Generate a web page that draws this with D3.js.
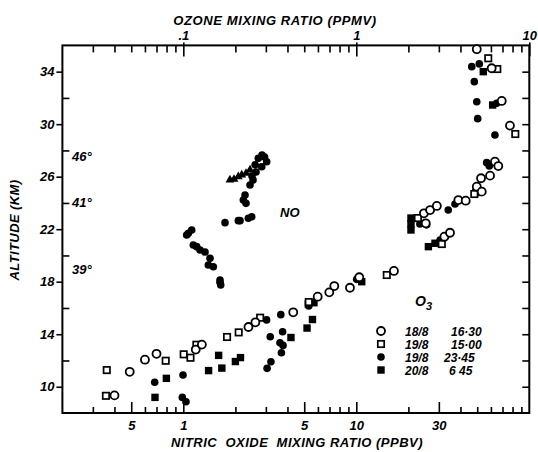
<!DOCTYPE html>
<html><head><meta charset="utf-8">
<script src="https://cdn.jsdelivr.net/npm/d3@7/dist/d3.min.js"></script>
<style>
body{margin:0;background:#fff;}
text{font-family:"Liberation Sans",Arial,sans-serif;font-style:italic;font-weight:bold;fill:#000;}
</style></head><body>
<svg id="c" width="538" height="452"></svg>
<script>
// ---- data (ozone in ppmv, altitude in km) ----
const o3_18_8_1630 = [[0.040,9.34],[0.049,11.14],[0.060,12.06],[0.070,12.51],[0.118,12.83],[0.128,13.21],[0.238,14.55],[0.261,14.91],[0.432,15.67],[0.598,16.86],[0.698,17.19],[0.746,17.67],[0.919,17.54],[1.04,18.34],[1.65,18.82],[2.46,23.21],[2.52,22.45],[2.67,23.46],[2.92,23.77],[3.23,21.43],[3.48,21.73],[3.89,24.22],[4.29,24.17],[4.97,25.24],[5.31,24.86],[5.26,25.88],[5.93,26.08],[6.33,27.14],[6.62,26.81],[4.97,35.71],[6.06,34.26],[6.93,31.77],[7.73,29.89]];
const o3_19_8_1500 = [[0.0361,11.27],[0.0357,9.31],[0.0791,11.98],[0.1005,12.47],[0.110,12.21],[0.119,13.2],[0.179,13.79],[0.209,14.14],[0.278,15.26],[0.531,16.45],[1.50,18.51],[2.27,22.85],[3.12,20.87],[4.81,24.68],[5.79,35.02],[6.53,34.2],[8.30,29.25]];
const o3_19_8_2345 = [[0.0683,10.34],[0.0987,9.19],[0.1036,8.86],[0.0996,10.89],[0.303,15.09],[0.366,15.49],[0.318,13.81],[0.375,14.19],[0.362,13.35],[0.377,13.15],[0.369,12.59],[0.321,11.9],[0.305,11.4],[0.531,16.15],[1.005,18.18],[2.33,22.4],[2.55,22.33],[3.05,21.18],[3.40,23.46],[3.72,23.92],[4.65,34.38],[5.14,34.59],[4.81,33.24],[4.97,31.71],[6.48,31.59],[5.03,30.42],[6.33,29.18],[5.67,27.07],[5.87,26.81]];
const o3_20_8_0645 = [[0.0686,9.19],[0.0798,10.64],[0.140,11.23],[0.160,12.39],[0.167,11.42],[0.200,11.92],[0.214,12.22],[0.419,13.75],[0.519,14.47],[0.558,15.12],[0.528,16.30],[0.569,16.4],[1.075,18.0],[2.07,22.85],[2.07,22.4],[2.07,21.94],[2.61,20.67],[2.85,20.93],[4.90,24.78],[5.42,34.0],[6.14,31.46]];
// nitric oxide in ppbv, altitude in km
const noDots = [[1.046,21.56],[1.069,21.69],[1.118,21.94],[1.142,20.8],[1.195,20.67],[1.249,20.42],[1.335,20.26],[1.427,19.78],[1.395,19.27],[1.491,19.14],[1.63,18.13],[1.645,17.75],[1.63,17.95],[1.742,22.5],[2.079,22.65],[2.127,22.65],[2.376,22.83],[2.486,22.95],[2.274,24.6],[2.223,24.22],[2.304,23.97],[2.43,25.37],[2.529,25.75],[2.714,27.4],[3.034,27.14],[2.84,26.76],[2.851,27.65],[2.632,26.36],[2.495,26.05],[2.95,27.5],[2.6,26.9]];
const noTriangles = [[1.86,25.75],[1.964,25.8],[2.079,26.0],[2.176,26.13],[2.304,26.26],[2.43,26.51]];
// axes
const noDomain = [0.2, 100];
const o3Domain = [0.02, 10];
const altDomain = [8, 36];
const bottomMajor = [0.5, 1, 5, 10, 30];
const bottomMajorLabels = ["5", "1", "5", "10", "30"];
const bottomMinor = [0.3,0.4,0.6,0.7,0.8,0.9,2,3,4,6,7,8,9,20,40,50,60,70,80,90];
const topMajor = [0.1, 1, 10];
const topMajorLabels = [".1", "1", "10"];
const topMinor = [0.03,0.04,0.05,0.06,0.07,0.08,0.09,0.2,0.3,0.4,0.5,0.6,0.7,0.8,0.9,2,3,4,5,6,7,8,9];
const altMajor = [10,14,18,22,26,30,34];
const altMinor = [12,16,20,24,28,32];
const altAll = [10,12,14,16,18,20,22,24,26,28,30,32,34];
const legendLabels = [["18/8","16·30"],["19/8","15·00"],["19/8","23·45"],["20/8","6 45"]];
const angleLabels = [["46°",27.6],["41°",24.1],["39°",19.0]];

const svg = d3.select("#c");
const L = 62.4, R = 529.3, T = 45.4, B = 413;
const xNO = d3.scaleLog().domain(noDomain).range([L, R]);
const xO3 = d3.scaleLog().domain(o3Domain).range([L, R]);
const y = d3.scaleLinear().domain(altDomain).range([B, T]);

function styleAxis(g){
  g.select(".domain").remove();
  g.selectAll(".tick line").attr("stroke","#000").attr("stroke-width",1.6);
  g.selectAll(".tick text").style("font-size","13px");
}
// bottom
svg.append("g").attr("transform",`translate(0,${B})`)
  .call(d3.axisBottom(xNO).tickValues(bottomMinor).tickSize(-6).tickFormat(""))
  .call(styleAxis);
svg.append("g").attr("transform",`translate(0,${B})`)
  .call(d3.axisBottom(xNO).tickValues(bottomMajor).tickSize(-11).tickPadding(8)
    .tickFormat((d,i)=>bottomMajorLabels[i]))
  .call(styleAxis);
// top
svg.append("g").attr("transform",`translate(0,${T})`)
  .call(d3.axisTop(xO3).tickValues(topMinor).tickSize(-7).tickFormat(""))
  .call(styleAxis);
svg.append("g").attr("transform",`translate(0,${T+11})`)
  .call(d3.axisTop(xO3).tickValues(topMajor).tickSize(14).tickPadding(2)
    .tickFormat((d,i)=>topMajorLabels[i]))
  .call(styleAxis);
// left
svg.append("g").attr("transform",`translate(${L},0)`)
  .call(d3.axisLeft(y).tickValues(altMajor).tickSize(6).tickPadding(2))
  .call(styleAxis);
svg.append("g").attr("transform",`translate(${L},0)`)
  .call(d3.axisLeft(y).tickValues(altMinor).tickSize(-7).tickFormat(""))
  .call(styleAxis);
// right
svg.append("g").attr("transform",`translate(${R},0)`)
  .call(d3.axisRight(y).tickValues(altAll).tickSize(-7).tickFormat(""))
  .call(styleAxis);

// frame
svg.append("rect").attr("x",L).attr("y",T).attr("width",R-L).attr("height",B-T)
  .attr("fill","none").attr("stroke","#000").attr("stroke-width",2);

// titles
svg.append("text").attr("x",275).attr("y",25).attr("text-anchor","middle")
  .style("font-size","13px").style("letter-spacing","0.6px").text("OZONE MIXING RATIO (PPMV)");
svg.append("text").attr("x",297).attr("y",447).attr("text-anchor","middle")
  .style("font-size","13px").style("letter-spacing","0.5px").style("white-space","pre")
  .text("NITRIC  OXIDE  MIXING RATIO (PPBV)");
svg.append("text").attr("transform","translate(19,230) rotate(-90)").attr("text-anchor","middle")
  .style("font-size","13px").style("letter-spacing","0.4px").text("ALTITUDE (KM)");

// angle annotations
svg.selectAll("text.ang").data(angleLabels).enter().append("text").attr("class","ang")
  .attr("x",72).attr("y",d=>y(d[1])+5).style("font-size","13px").text(d=>d[0]);
svg.append("text").attr("x",280).attr("y",217).style("font-size","13px").text("NO");

// NO series
const gNO = svg.append("g");
gNO.selectAll("circle").data(noDots).enter().append("circle")
  .attr("cx",d=>xNO(d[0])).attr("cy",d=>y(d[1])).attr("r",3.8).attr("fill","#000");
gNO.selectAll("path").data(noTriangles).enter().append("path")
  .attr("d",d3.symbol(d3.symbolTriangle,34))
  .attr("transform",d=>`translate(${xNO(d[0])},${y(d[1])})`).attr("fill","#000");

// ozone series
function openCircle(g,data){ g.selectAll("circle.oc").data(data).enter().append("circle").attr("class","oc")
  .attr("cx",d=>xO3(d[0])).attr("cy",d=>y(d[1])).attr("r",4).attr("fill","#fff").attr("stroke","#000").attr("stroke-width",1.8);}
function openSquare(g,data){ g.selectAll("rect.os").data(data).enter().append("rect").attr("class","os")
  .attr("x",d=>xO3(d[0])-3.2).attr("y",d=>y(d[1])-3.2).attr("width",6.4).attr("height",6.4).attr("fill","#fff").attr("stroke","#000").attr("stroke-width",1.7);}
function fillCircle(g,data){ g.selectAll("circle.fc").data(data).enter().append("circle").attr("class","fc")
  .attr("cx",d=>xO3(d[0])).attr("cy",d=>y(d[1])).attr("r",3.8).attr("fill","#000");}
function fillSquare(g,data){ g.selectAll("rect.fs").data(data).enter().append("rect").attr("class","fs")
  .attr("x",d=>xO3(d[0])-3.7).attr("y",d=>y(d[1])-3.7).attr("width",7.4).attr("height",7.4).attr("fill","#000");}
const gO = svg.append("g");
fillCircle(gO,o3_19_8_2345);
fillSquare(gO,o3_20_8_0645);
openSquare(gO,o3_19_8_1500);
openCircle(gO,o3_18_8_1630);

// legend
const lx = 381, ly = [331,344,357,370];
svg.append("text").attr("x",415).attr("y",306).style("font-size","14px")
  .html('O<tspan dy="4" style="font-size:11px">3</tspan>');
const lg = svg.append("g");
lg.append("circle").attr("cx",lx).attr("cy",ly[0]).attr("r",4).attr("fill","#fff").attr("stroke","#000").attr("stroke-width",1.8);
lg.append("rect").attr("x",lx-3.2).attr("y",ly[1]-3.2).attr("width",6.4).attr("height",6.4).attr("fill","#fff").attr("stroke","#000").attr("stroke-width",1.7);
lg.append("circle").attr("cx",lx).attr("cy",ly[2]).attr("r",3.8).attr("fill","#000");
lg.append("rect").attr("x",lx-3.7).attr("y",ly[3]-3.7).attr("width",7.4).attr("height",7.4).attr("fill","#000");
legendLabels.forEach((l,i)=>{
  lg.append("text").attr("x",405).attr("y",ly[i]+4.5).style("font-size","12px").text(l[0]);
  lg.append("text").attr("x",i===3?449:(i===2?444:451)).attr("y",ly[i]+4.5).style("font-size","12px").text(l[1]);
});
</script></body></html>
